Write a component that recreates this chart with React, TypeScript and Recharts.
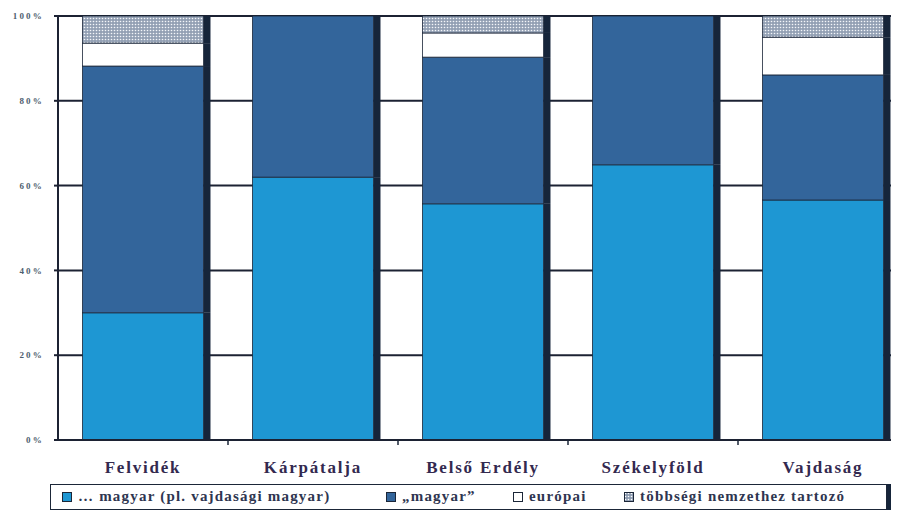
import React from "react";
import { BarChart, Bar, XAxis, YAxis, CartesianGrid } from "recharts";

const categories = ["Felvidék", "Kárpátalja", "Belső Erdély", "Székelyföld", "Vajdaság"];
const regionalMagyar = [30, 62, 55.7, 64.9, 56.6];
const magyar = [58.2, 38, 34.6, 35.1, 29.5];
const europai = [5.4, 0, 5.7, 0, 8.9];
const tobbsegi = [6.4, 0, 4, 0, 5];
const yTicks = [0, 20, 40, 60, 80, 100];

const seriesNames = [
  "… magyar (pl. vajdasági magyar)",
  "„magyar”",
  "európai",
  "többségi nemzethez tartozó",
];

const data = categories.map((name, i) => ({
  name,
  regional: regionalMagyar[i],
  magyar: magyar[i],
  europai: europai[i],
  tobbsegi: tobbsegi[i],
}));

const LIGHT = "#1e97d3";
const DARK = "#33659b";
const EDGE = "#1b2638";
const SERIF = "'Liberation Serif', 'DejaVu Serif', serif";

const PLOT_W = 850;
const BAND = PLOT_W / categories.length;

// bar segment with the dark drop shadow on its right
const ShadowBar = (props: any) => {
  const { x, y, width, height, fill } = props;
  if (!height || height <= 0) return null;
  return (
    <g>
      <rect x={x + width} y={y} width={7} height={height} fill="#16253a" />
      <rect x={x} y={y} width={width} height={height} fill={fill} stroke={EDGE} strokeWidth={0.8} />
    </g>
  );
};

const CategoryTick = (props: any) => {
  const { x, y, payload, index } = props;
  return (
    <g>
      {index > 0 && (
        <line x1={x - BAND / 2} x2={x - BAND / 2} y1={y} y2={y + 5} stroke={EDGE} strokeWidth={1.5} />
      )}
      <text
        x={x}
        y={y + 33}
        textAnchor="middle"
        fontFamily={SERIF}
        fontWeight="bold"
        fontSize={17}
        letterSpacing={1.8}
        fill="#33294f"
      >
        {payload.value}
      </text>
    </g>
  );
};

const fills = [LIGHT, DARK, "#ffffff", "hatch"];

function LegendSwatch({ fill }: { fill: string }) {
  return (
    <svg width={10} height={10} style={{ marginRight: 6, flex: "none" }}>
      <defs>
        <pattern id="hatchLegend" width={3} height={3} patternUnits="userSpaceOnUse">
          <rect width={3} height={3} fill="#8d9bb0" />
          <circle cx={1.5} cy={1.5} r={0.8} fill="#ffffff" />
        </pattern>
      </defs>
      <rect
        x={0.5}
        y={0.5}
        width={9}
        height={9}
        fill={fill === "hatch" ? "url(#hatchLegend)" : fill}
        stroke={EDGE}
        strokeWidth={1}
      />
    </svg>
  );
}

const legendLefts = [11, 335, 462, 573];

export default function App() {
  return (
    <div style={{ position: "relative", width: 891, height: 502, overflow: "hidden", background: "#fff" }}>
      <BarChart
        width={905}
        height={502}
        data={data}
        margin={{ top: 8, right: 5, bottom: 0, left: 0 }}
        barCategoryGap="14.4%"
      >
        <defs>
          <pattern id="hatch" width={3} height={3} patternUnits="userSpaceOnUse">
            <rect width={3} height={3} fill="#93a0b4" />
            <circle cx={1.5} cy={1.5} r={0.8} fill="#f4f6fa" />
          </pattern>
        </defs>
        <CartesianGrid vertical={false} stroke="#1c2233" strokeWidth={2} />
        <XAxis
          dataKey="name"
          tickSize={0}
          tickMargin={0}
          axisLine={{ stroke: "#1c2233", strokeWidth: 2 }}
          tick={<CategoryTick />}
          interval={0}
          height={70}
        />
        <YAxis
          width={50}
          domain={[0, 100]}
          ticks={yTicks}
          tickFormatter={(v: number) => `${v}%`}
          tickSize={4}
          tickMargin={10}
          axisLine={{ stroke: "#1c2233", strokeWidth: 2 }}
          tickLine={{ stroke: "#1c2233", strokeWidth: 2 }}
          tick={{ fontFamily: SERIF, fontWeight: "bold", fontSize: 9, letterSpacing: 2.2, fill: "#4d5e6e" }}
        />
        <Bar dataKey="regional" stackId="a" fill={LIGHT} shape={<ShadowBar />} isAnimationActive={false} />
        <Bar dataKey="magyar" stackId="a" fill={DARK} shape={<ShadowBar />} isAnimationActive={false} />
        <Bar dataKey="europai" stackId="a" fill="#ffffff" shape={<ShadowBar />} isAnimationActive={false} />
        <Bar dataKey="tobbsegi" stackId="a" fill="url(#hatch)" shape={<ShadowBar />} isAnimationActive={false} />
      </BarChart>
      <div
        style={{
          position: "absolute",
          left: 42,
          top: 476,
          width: 837,
          height: 26,
          border: `1.5px solid ${EDGE}`,
          boxShadow: "6px 0 0 #16253a",
          boxSizing: "border-box",
          fontFamily: SERIF,
          fontWeight: "bold",
          fontSize: 15,
          letterSpacing: 1.2,
          color: "#2e3550",
        }}
      >
        {seriesNames.map((name, i) => (
          <div
            key={name}
            style={{
              position: "absolute",
              left: legendLefts[i],
              top: 3,
              display: "flex",
              alignItems: "center",
              whiteSpace: "nowrap",
            }}
          >
            <LegendSwatch fill={fills[i]} />
            <span>{name}</span>
          </div>
        ))}
      </div>
    </div>
  );
}
